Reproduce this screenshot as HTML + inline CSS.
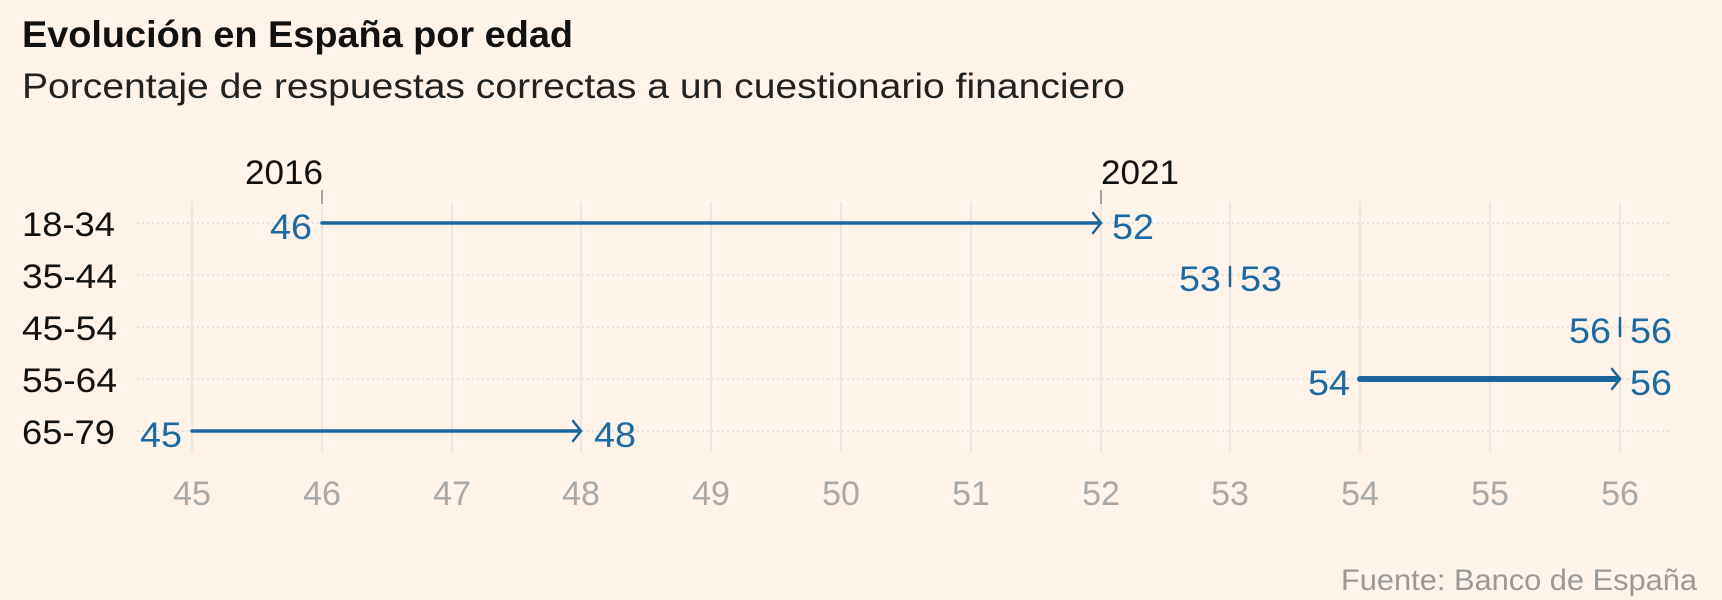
<!DOCTYPE html>
<html><head><meta charset="utf-8"><style>
html,body{margin:0;padding:0;background:#fff3ea;}
svg{display:block;font-family:"Liberation Sans",Arial,sans-serif;}
</style></head><body>
<svg width="1722" height="600" viewBox="0 0 1722 600">
<rect width="1722" height="600" fill="#fff3ea"/>
<text x="22" y="47" font-size="37" font-weight="bold" fill="#111" textLength="551" lengthAdjust="spacingAndGlyphs">Evolución en España por edad</text>
<text x="22" y="98" font-size="35" fill="#222" textLength="1103" lengthAdjust="spacingAndGlyphs">Porcentaje de respuestas correctas a un cuestionario financiero</text>
<g stroke="#e3e3e3" stroke-width="1.5">
<line x1="192" y1="202" x2="192" y2="452"/><line x1="322" y1="202" x2="322" y2="452"/><line x1="452" y1="202" x2="452" y2="452"/><line x1="581" y1="202" x2="581" y2="452"/><line x1="711" y1="202" x2="711" y2="452"/><line x1="841" y1="202" x2="841" y2="452"/><line x1="971" y1="202" x2="971" y2="452"/><line x1="1101" y1="202" x2="1101" y2="452"/><line x1="1230" y1="202" x2="1230" y2="452"/><line x1="1360" y1="202" x2="1360" y2="452"/><line x1="1490" y1="202" x2="1490" y2="452"/><line x1="1620" y1="202" x2="1620" y2="452"/>
</g>
<g stroke="#ddd" stroke-width="1.5" stroke-dasharray="2 3">
<line x1="137" y1="223" x2="1670" y2="223"/><line x1="137" y1="275" x2="1670" y2="275"/><line x1="137" y1="327" x2="1670" y2="327"/><line x1="137" y1="379" x2="1670" y2="379"/><line x1="137" y1="431" x2="1670" y2="431"/>
</g>
<g font-size="34" fill="#111" lengthAdjust="spacingAndGlyphs">
<text x="22" y="236" textLength="93" lengthAdjust="spacingAndGlyphs">18-34</text><text x="22" y="288" textLength="95" lengthAdjust="spacingAndGlyphs">35-44</text><text x="22" y="340" textLength="95" lengthAdjust="spacingAndGlyphs">45-54</text><text x="22" y="392" textLength="95" lengthAdjust="spacingAndGlyphs">55-64</text><text x="22" y="444" textLength="93" lengthAdjust="spacingAndGlyphs">65-79</text>
<text x="245" y="184" textLength="78" lengthAdjust="spacingAndGlyphs">2016</text><text x="1101" y="184" textLength="78" lengthAdjust="spacingAndGlyphs">2021</text>
</g>
<line x1="322" y1="190" x2="322" y2="204" stroke="#888" stroke-width="1.5"/>
<line x1="1101" y1="190" x2="1101" y2="204" stroke="#888" stroke-width="1.5"/>
<g fill="none" stroke="#1a659b" stroke-linecap="round">
<line x1="322" y1="223" x2="1099" y2="223" stroke-width="3.5"/><polyline points="1093,213 1101,223 1093,233" stroke-width="2.5"/>
<line x1="192" y1="431" x2="579" y2="431" stroke-width="3.5"/><polyline points="573,421 581,431 573,441" stroke-width="2.5"/>
<line x1="1360" y1="379" x2="1618" y2="379" stroke-width="6"/><polyline points="1612,369 1620,379 1612,389" stroke-width="2.5"/>
<line x1="1230" y1="267" x2="1230" y2="286" stroke-width="2.5"/>
<line x1="1620" y1="318" x2="1620" y2="336" stroke-width="2.5"/>
</g>
<g font-size="35" fill="#1a6aa3">
<text x="312" y="239" text-anchor="end" textLength="42" lengthAdjust="spacingAndGlyphs">46</text><text x="1112" y="239" textLength="42" lengthAdjust="spacingAndGlyphs">52</text>
<text x="1221" y="291" text-anchor="end" textLength="42" lengthAdjust="spacingAndGlyphs">53</text><text x="1240" y="291" textLength="42" lengthAdjust="spacingAndGlyphs">53</text>
<text x="1611" y="343" text-anchor="end" textLength="42" lengthAdjust="spacingAndGlyphs">56</text><text x="1630" y="343" textLength="42" lengthAdjust="spacingAndGlyphs">56</text>
<text x="1350" y="395" text-anchor="end" textLength="42" lengthAdjust="spacingAndGlyphs">54</text><text x="1630" y="395" textLength="42" lengthAdjust="spacingAndGlyphs">56</text>
<text x="182" y="447" text-anchor="end" textLength="42" lengthAdjust="spacingAndGlyphs">45</text><text x="594" y="447" textLength="42" lengthAdjust="spacingAndGlyphs">48</text>
</g>
<g font-size="34" fill="#a9a9a9" text-anchor="middle">
<text x="192" y="505">45</text><text x="322" y="505">46</text><text x="452" y="505">47</text><text x="581" y="505">48</text><text x="711" y="505">49</text><text x="841" y="505">50</text><text x="971" y="505">51</text><text x="1101" y="505">52</text><text x="1230" y="505">53</text><text x="1360" y="505">54</text><text x="1490" y="505">55</text><text x="1620" y="505">56</text>
</g>
<text x="1697" y="590" font-size="30" fill="#999" text-anchor="end" textLength="356" lengthAdjust="spacingAndGlyphs">Fuente: Banco de España</text>
</svg>
</body></html>
